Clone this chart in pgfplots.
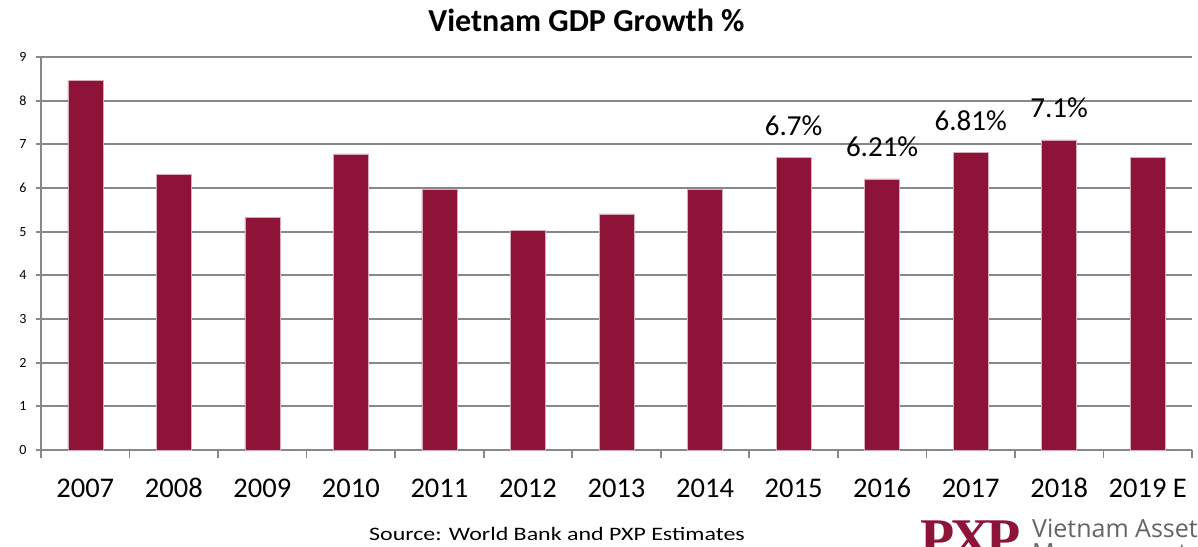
\documentclass[border=0pt]{standalone}
\usepackage{pgfplots}
\pgfplotsset{compat=1.18}
\usepackage{fontspec}
\setmainfont{Carlito}
\newfontfamily\srcfont[FakeStretch=1.26]{Carlito}
\newfontfamily\logosans{Open Sans}
\newfontfamily\logoserif{Liberation Serif}
\definecolor{barcol}{RGB}{141,20,56}
\definecolor{gridg}{RGB}{136,136,136}
\definecolor{logog}{RGB}{100,100,100}
\begin{document}
\begin{tikzpicture}
\useasboundingbox (-41pt,-96pt) rectangle (1157pt,450pt);
\begin{axis}[
  at={(0,0)}, anchor=south west,
  scale only axis, width=1151pt, height=393pt,
  xmin=-0.5, xmax=12.5, ymin=0, ymax=9,
  axis x line=bottom, axis y line=left,
  axis line style={gridg, line width=1.7pt, -},
  xtick={0,...,12},
  xticklabels={2007,2008,2009,2010,2011,2012,2013,2014,2015,2016,2017,2018,2019 E},
  major x tick style={draw=none},
  minor xtick={-0.5,0.5,...,12.5},
  minor tick length=8pt,
  minor x tick style={gridg, line width=1.7pt},
  ytick={0,1,...,9},
  major tick length=5pt,
  tick align=outside,
  y tick style={gridg, line width=1.7pt},
  ymajorgrids,
  grid style={gridg, line width=1.7pt},
  /pgf/number format/assume math mode=true,
  yticklabel style={font=\fontsize{14}{16}\selectfont, xshift=-6pt},
  xticklabel style={font=\fontsize{28.5}{31}\selectfont, anchor=base, yshift=-42pt},
  clip=false,
]
\addplot[ybar, bar width=35pt, bar shift=0pt, fill=barcol, draw=barcol!35!white, line width=0.5pt]
coordinates {(0,8.46) (1,6.31) (2,5.32) (3,6.78) (4,5.96) (5,5.03) (6,5.41) (7,5.97) (8,6.70) (9,6.21) (10,6.81) (11,7.10) (12,6.70)};
\addplot[draw=none, mark=none, nodes near coords, point meta=explicit symbolic,
  every node near coord/.append style={font=\fontsize{29}{32}\selectfont, anchor=base, yshift=22pt, text=black}]
coordinates {(8,6.70)[6.7\%] (9,6.21)[6.21\%] (10,6.81)[6.81\%] (11,7.10)[7.1\%]};
\end{axis}
\node[anchor=base, font=\bfseries\fontsize{32}{35}\selectfont] at (545.5pt,418pt) {Vietnam GDP Growth \%};
\node[anchor=base, font=\srcfont\fontsize{19}{21}\selectfont] at (516pt,-90pt) {Source: World Bank and PXP Estimates};
\node[anchor=base west, inner sep=0pt, text=barcol, font=\logoserif\bfseries\fontsize{56}{58}\selectfont] at (879pt,-107pt) {P\kern-4pt X\kern-4pt P};
\node[anchor=base west, inner sep=0pt, text=logog, font=\logosans\fontsize{25}{30}\selectfont] at (991pt,-87pt) {Vietnam Asset};
\node[anchor=base west, inner sep=0pt, text=logog, font=\logosans\fontsize{25}{30}\selectfont] at (991pt,-111pt) {Management};
\end{tikzpicture}
\end{document}
